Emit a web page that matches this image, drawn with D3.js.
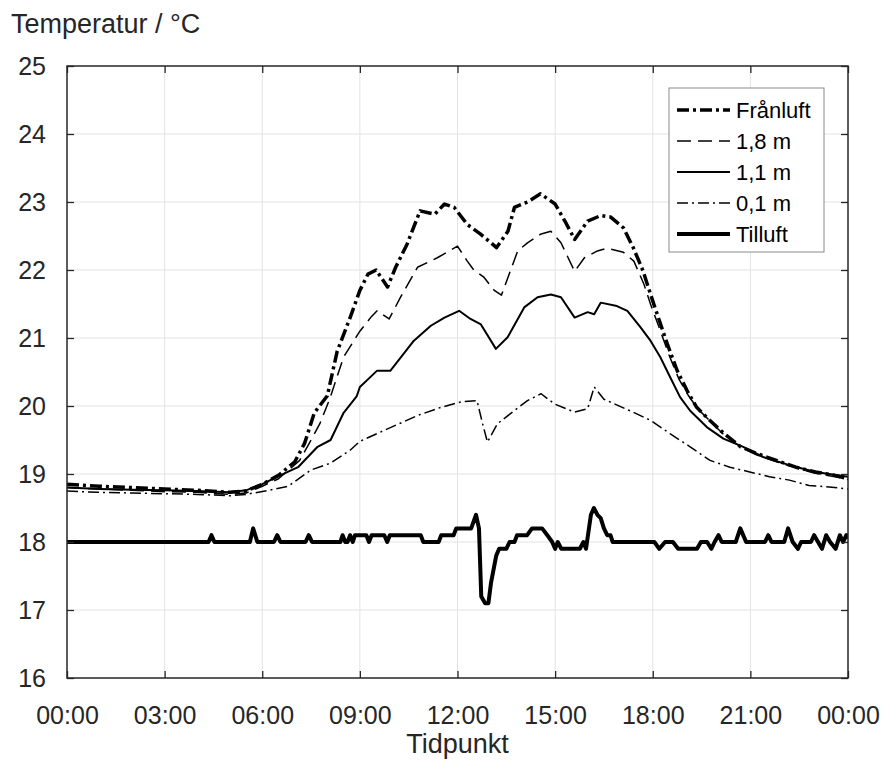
<!DOCTYPE html>
<html>
<head>
<meta charset="utf-8">
<script src="https://cdn.jsdelivr.net/npm/d3@7"></script>
<style>
  body { margin: 0; background: #fff; }
  svg { display: block; font-family: "Liberation Sans", Arial, sans-serif; }
</style>
</head>
<body>
<div id="chart"></div>
<script>
// Zeitpunkte in Stunden, Werte in °C
const franluft = [[0,18.85],[1,18.82],[2,18.8],[3,18.78],[4,18.76],[5,18.73],[5.5,18.75],[6,18.85],[6.5,18.98],[7,19.18],[7.3,19.45],[7.6,19.9],[8,20.15],[8.3,20.8],[8.7,21.3],[9,21.7],[9.25,21.94],[9.5,22.0],[9.85,21.75],[10.1,22.04],[10.45,22.38],[10.85,22.87],[11.3,22.82],[11.6,22.97],[11.9,22.92],[12.3,22.67],[12.7,22.53],[13.2,22.33],[13.55,22.57],[13.75,22.92],[14.15,23.0],[14.55,23.12],[15,22.97],[15.3,22.72],[15.6,22.45],[16,22.72],[16.4,22.8],[16.7,22.78],[17.1,22.62],[17.4,22.33],[17.7,21.99],[17.9,21.69],[18.1,21.4],[18.45,20.91],[18.75,20.52],[19.05,20.23],[19.35,19.98],[19.75,19.79],[20.2,19.59],[20.7,19.4],[21.2,19.3],[21.8,19.2],[22.4,19.1],[23,19.03],[23.6,18.98],[24,18.93]]
const m18 = [[0,18.8],[1,18.78],[2,18.76],[3,18.74],[4,18.73],[5,18.7],[5.5,18.72],[6,18.82],[6.5,18.93],[7.15,19.2],[7.5,19.5],[7.77,19.74],[8.07,20.1],[8.5,20.72],[9,21.1],[9.33,21.3],[9.53,21.4],[9.9,21.28],[10.25,21.6],[10.77,22.04],[11.38,22.18],[12,22.35],[12.3,22.13],[12.5,22.0],[12.8,21.9],[13.13,21.7],[13.35,21.63],[13.55,21.89],[13.85,22.28],[14.15,22.4],[14.57,22.53],[14.87,22.57],[15.18,22.4],[15.6,21.98],[15.9,22.18],[16.3,22.28],[16.6,22.32],[17.1,22.26],[17.42,22.13],[17.73,21.79],[17.93,21.5],[18.2,21.15],[18.5,20.75],[18.8,20.4],[19.1,20.15],[19.4,19.95],[19.8,19.76],[20.2,19.57],[20.7,19.4],[21.2,19.28],[21.8,19.18],[22.4,19.09],[23,19.01],[23.6,18.96],[24,18.92]]
const m11 = [[0,18.8],[1,18.78],[2,18.77],[3,18.76],[4,18.75],[5,18.73],[5.5,18.76],[6,18.85],[6.5,18.97],[7.1,19.1],[7.7,19.4],[8.1,19.5],[8.5,19.9],[8.9,20.14],[9,20.28],[9.53,20.52],[9.94,20.52],[10.66,20.96],[11.18,21.18],[11.6,21.3],[12.05,21.4],[12.4,21.28],[12.72,21.2],[13.18,20.84],[13.54,21.01],[14.05,21.45],[14.46,21.6],[14.87,21.64],[15.18,21.6],[15.6,21.3],[16,21.38],[16.2,21.35],[16.4,21.52],[16.9,21.47],[17.22,21.4],[17.62,21.16],[17.93,20.96],[18.23,20.72],[18.54,20.42],[18.84,20.13],[19.15,19.93],[19.66,19.69],[20.17,19.52],[20.78,19.4],[21.39,19.25],[22.2,19.13],[23,19.03],[24,18.96]]
const m01 = [[0,18.75],[1,18.73],[2,18.72],[3,18.71],[4,18.7],[5,18.68],[5.5,18.7],[6.2,18.76],[6.8,18.82],[7.5,19.06],[8.1,19.16],[8.7,19.35],[9,19.48],[9.74,19.64],[10.77,19.86],[11.49,19.98],[12.1,20.06],[12.6,20.08],[12.77,19.74],[12.92,19.47],[13.23,19.74],[13.74,19.93],[14.15,20.08],[14.57,20.18],[14.98,20.03],[15.6,19.91],[16,19.96],[16.2,20.28],[16.5,20.1],[17.3,19.93],[17.93,19.79],[18.54,19.59],[19.15,19.4],[19.76,19.2],[20.37,19.1],[20.98,19.03],[21.59,18.96],[22.2,18.91],[22.8,18.83],[23.42,18.81],[24,18.78]]
const tilluft = [[0,18.0],[4.35,18.0],[4.44,18.1],[4.53,18.0],[5.62,18.0],[5.72,18.2],[5.85,18.0],[6.36,18.0],[6.46,18.1],[6.56,18.0],[7.33,18.0],[7.43,18.1],[7.53,18.0],[8.4,18.0],[8.47,18.1],[8.55,18.0],[8.62,18.0],[8.7,18.1],[8.78,18.0],[8.85,18.1],[9.2,18.1],[9.28,18.0],[9.36,18.1],[9.75,18.1],[9.84,18.0],[9.92,18.1],[10.87,18.1],[10.95,18.0],[11.42,18.0],[11.5,18.1],[11.88,18.1],[11.96,18.2],[12.42,18.2],[12.57,18.4],[12.66,18.2],[12.73,17.2],[12.85,17.1],[12.95,17.1],[13.03,17.4],[13.19,17.8],[13.28,17.9],[13.5,17.9],[13.6,18.0],[13.75,18.0],[13.83,18.1],[14.14,18.1],[14.29,18.2],[14.6,18.2],[14.76,18.1],[14.91,18.0],[15.0,17.9],[15.08,18.0],[15.19,17.9],[15.76,17.9],[15.87,18.0],[15.95,17.9],[16.1,18.4],[16.19,18.5],[16.3,18.4],[16.4,18.35],[16.5,18.2],[16.6,18.1],[16.7,18.1],[16.77,18.0],[18.05,18.0],[18.2,17.9],[18.38,18.0],[18.62,18.0],[18.78,17.9],[18.94,17.9],[19.36,17.9],[19.48,18.0],[19.67,18.0],[19.8,17.9],[19.9,18.0],[20.02,18.1],[20.12,18.0],[20.55,18.0],[20.69,18.2],[20.87,18.0],[21.45,18.0],[21.55,18.1],[21.65,18.0],[22.04,18.0],[22.16,18.2],[22.3,18.0],[22.46,17.9],[22.56,18.0],[22.86,18.0],[22.96,18.1],[23.08,18.0],[23.2,17.9],[23.33,18.1],[23.45,18.0],[23.62,17.9],[23.75,18.1],[23.85,18.0],[23.95,18.1],[24,18.05]]

const xTicks = [0, 3, 6, 9, 12, 15, 18, 21, 24]
const yTicks = [16, 17, 18, 19, 20, 21, 22, 23, 24, 25]

const series = [
    {name: "Frånluft", data: franluft, width: 3.5, dash: "12,4,3,4"},
    {name: "1,8 m", data: m18, width: 1.5, dash: "14,7"},
    {name: "1,1 m", data: m11, width: 2, dash: null},
    {name: "0,1 m", data: m01, width: 1.5, dash: "11,4,2,4"},
    {name: "Tilluft", data: tilluft, width: 4, dash: null}
]

const dimensions = {width: 883, height: 760, marginLeft: 67, marginRight: 35, marginTop: 66, marginBottom: 82}
const {width, height, marginLeft, marginRight, marginTop, marginBottom} = dimensions
const axisColor = "#262626"

const svg = d3.select("#chart").append("svg")
    .attr("width", width)
    .attr("height", height)

const x = d3.scaleLinear().domain([0, 24]).range([marginLeft, width - marginRight])
const y = d3.scaleLinear().domain([16, 25]).range([height - marginBottom, marginTop])
const fmtTime = d => String(d % 24).padStart(2, "0") + ":00"

// Gitter
svg.append("g")
    .attr("stroke", "#e3e3e3")
    .attr("stroke-width", 1)
    .call(g => g.selectAll("line.v").data(xTicks.slice(1, -1)).join("line")
        .attr("x1", d => x(d)).attr("x2", d => x(d))
        .attr("y1", marginTop).attr("y2", height - marginBottom))
    .call(g => g.selectAll("line.h").data(yTicks.slice(1, -1)).join("line")
        .attr("x1", marginLeft).attr("x2", width - marginRight)
        .attr("y1", d => y(d)).attr("y2", d => y(d)))

svg.append("clipPath").attr("id", "clip")
    .append("rect")
    .attr("x", marginLeft).attr("y", marginTop)
    .attr("width", width - marginLeft - marginRight)
    .attr("height", height - marginTop - marginBottom)

const line = d3.line().x(d => x(d[0])).y(d => y(d[1]))

svg.append("g").attr("clip-path", "url(#clip)")
    .selectAll("path")
    .data(series)
    .join("path")
    .attr("fill", "none")
    .attr("stroke", "#000")
    .attr("stroke-width", d => d.width)
    .attr("stroke-dasharray", d => d.dash)
    .attr("stroke-linejoin", "round")
    .attr("d", d => line(d.data))

// Achsen mit Ticks nach innen
const styleAxis = g => {
    g.select(".domain").remove()
    g.selectAll(".tick line").attr("stroke", axisColor).attr("stroke-width", 1.3)
    g.selectAll(".tick text").attr("fill", axisColor).style("font-size", "25px")
}

svg.append("g")
    .attr("transform", `translate(0,${height - marginBottom})`)
    .call(d3.axisBottom(x).tickValues(xTicks).tickSize(-7).tickPadding(28).tickFormat(fmtTime))
    .call(styleAxis)

svg.append("g")
    .attr("transform", `translate(0,${marginTop})`)
    .call(d3.axisTop(x).tickValues(xTicks).tickSize(-7).tickFormat(""))
    .call(styleAxis)

svg.append("g")
    .attr("transform", `translate(${marginLeft},0)`)
    .call(d3.axisLeft(y).tickValues(yTicks).tickSize(-7).tickPadding(21))
    .call(styleAxis)

svg.append("g")
    .attr("transform", `translate(${width - marginRight},0)`)
    .call(d3.axisRight(y).tickValues(yTicks).tickSize(-7).tickFormat(""))
    .call(styleAxis)

svg.selectAll("g").attr("font-family", null)

svg.append("rect")
    .attr("x", marginLeft).attr("y", marginTop)
    .attr("width", width - marginLeft - marginRight)
    .attr("height", height - marginTop - marginBottom)
    .attr("fill", "none")
    .attr("stroke", axisColor)
    .attr("stroke-width", 1.5)

// Achsentitel
svg.append("text")
    .attr("x", 11).attr("y", 33)
    .attr("fill", axisColor)
    .style("font-size", "27px")
    .text("Temperatur / °C")

svg.append("text")
    .attr("x", (marginLeft + width - marginRight) / 2).attr("y", 753)
    .attr("text-anchor", "middle")
    .attr("fill", axisColor)
    .style("font-size", "27px")
    .text("Tidpunkt")

// Legende
const legend = svg.append("g").attr("transform", "translate(669,88)")
legend.append("rect")
    .attr("width", 155).attr("height", 164)
    .attr("fill", "#fff")
    .attr("stroke", "#8a8a8a")
    .attr("stroke-width", 1)

const item = legend.selectAll("g.item")
    .data(series)
    .join("g")
    .attr("class", "item")
    .attr("transform", (d, i) => `translate(0,${22 + i * 31})`)

item.append("line")
    .attr("x1", 8).attr("x2", 61)
    .attr("stroke", "#000")
    .attr("stroke-width", d => d.width)
    .attr("stroke-dasharray", d => d.dash)

item.append("text")
    .attr("x", 67).attr("dy", "0.36em")
    .style("font-size", "22px")
    .attr("fill", "#000")
    .text(d => d.name)
</script>
</body>
</html>
